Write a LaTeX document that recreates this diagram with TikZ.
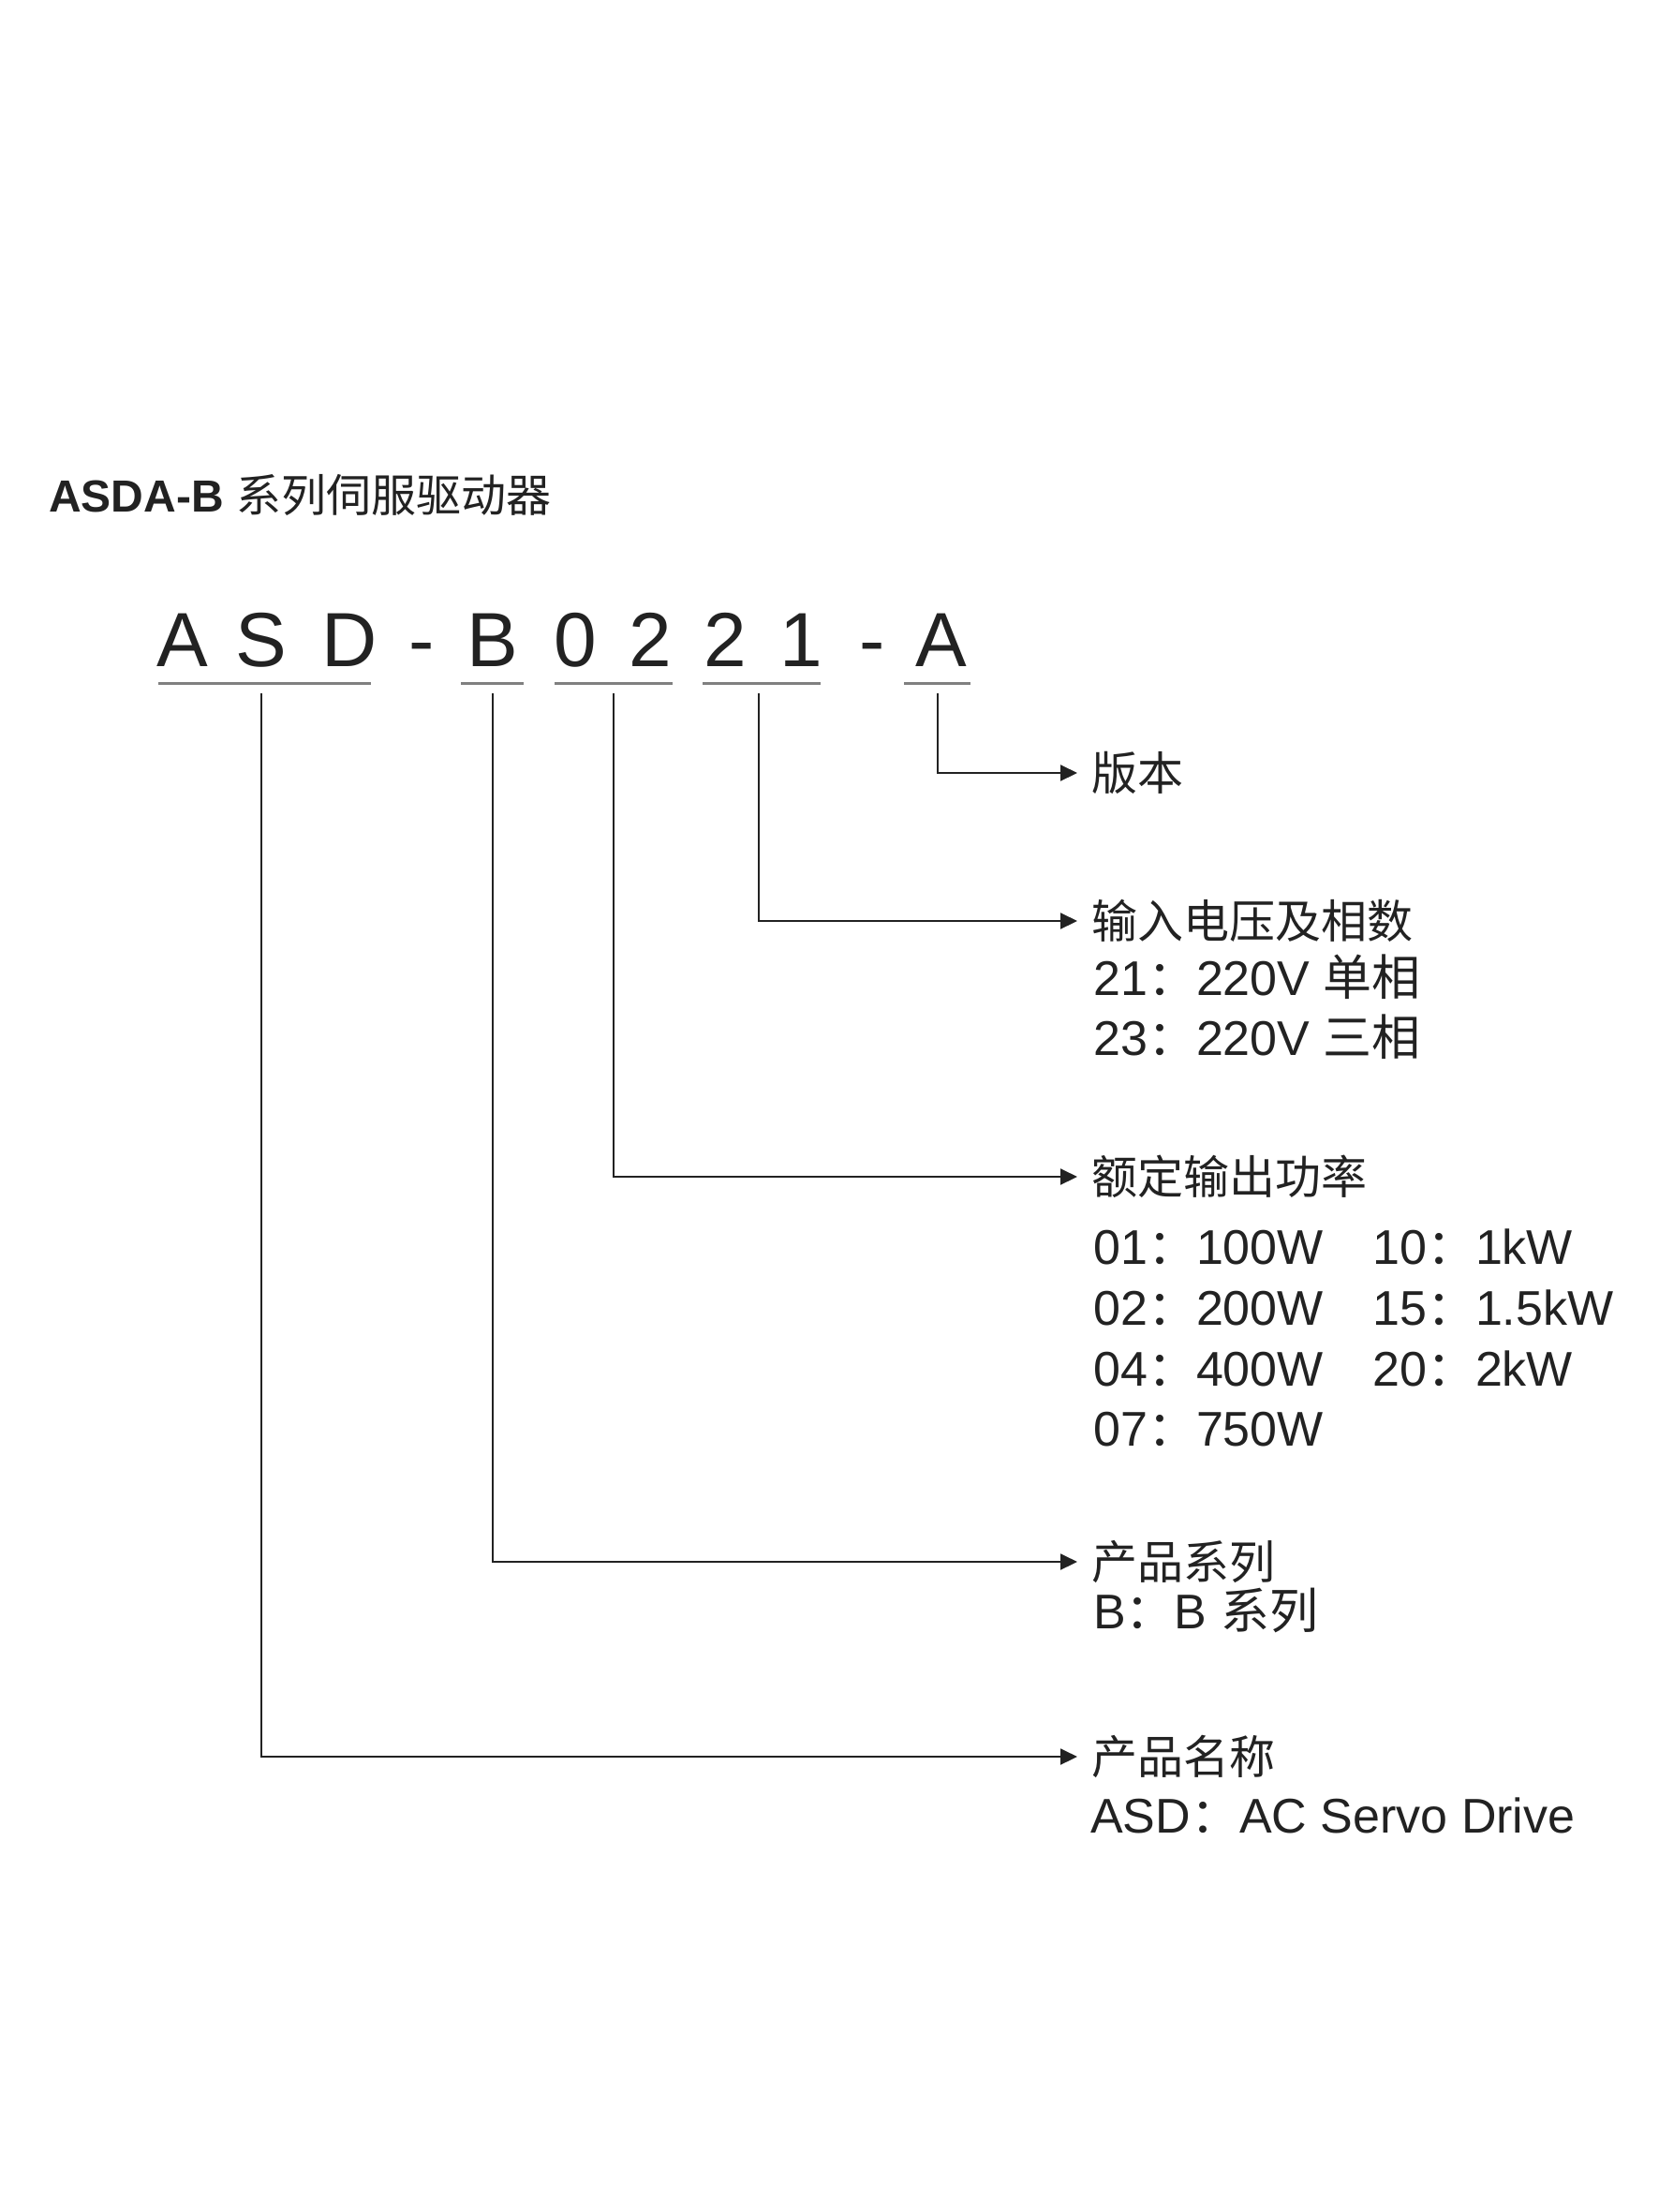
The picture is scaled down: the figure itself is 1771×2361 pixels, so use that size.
\documentclass[tikz,border=0pt]{standalone}
\usepackage{fontspec}
\setmainfont{Liberation Sans}
\newfontfamily\cjk{Noto Sans CJK SC}
\usetikzlibrary{arrows.meta}
\definecolor{ink}{HTML}{222222}
\definecolor{ulgray}{HTML}{808080}
\begin{document}
\begin{tikzpicture}[x=1pt,y=-1pt,
  codech/.style={font=\fontsize{82}{82}\selectfont, text=ink, anchor=base, inner sep=0},
  uline/.style={draw=ulgray, line width=3pt},
  conn/.style={draw=ink, line width=2pt, -{Triangle[length=18pt,width=17pt]}},
  head/.style={anchor=west, inner xsep=15pt, inner ysep=0, font=\cjk\fontsize{49}{49}\selectfont, text=ink},
  sub/.style={anchor=base west, inner sep=0, font=\fontsize{52}{52}\selectfont, text=ink},
  title/.style={anchor=base west, inner sep=0, text=ink}]
\useasboundingbox[fill=white] (0,0) rectangle (1771,2361);

% title
\node[title] (title) at (52,546) {\fontsize{48}{48}\selectfont\bfseries ASDA-B {\cjk\mdseries 系列伺服驱动器}};

% code characters
\node[codech] (c1) at (195,711) {A};
\node[codech] (c2) at (279,711) {S};
\node[codech] (c3) at (373,711) {D};
\node[codech] (c4) at (450,711) {-};
\node[codech] (c5) at (526,711) {B};
\node[codech] (c6) at (614,711) {0};
\node[codech] (c7) at (694,711) {2};
\node[codech] (c8) at (774,711) {2};
\node[codech] (c9) at (855,711) {1};
\node[codech] (c10) at (931,711) {-};
\node[codech] (c11) at (1005,711) {A};

% underlines
\coordinate (u1a) at (169,729); \coordinate (u1b) at (396,729);
\coordinate (u2a) at (492,729); \coordinate (u2b) at (559,729);
\coordinate (u3a) at (592,729); \coordinate (u3b) at (718,729);
\coordinate (u4a) at (750,729); \coordinate (u4b) at (876,729);
\coordinate (u5a) at (965,729); \coordinate (u5b) at (1036,729);
\draw[uline] (u1a) -- (u1b);
\draw[uline] (u2a) -- (u2b);
\draw[uline] (u3a) -- (u3b);
\draw[uline] (u4a) -- (u4b);
\draw[uline] (u5a) -- (u5b);

% connector start points
\coordinate (t1) at (279,740);
\coordinate (t2) at (526,740);
\coordinate (t3) at (655,740);
\coordinate (t4) at (810,740);
\coordinate (t5) at (1001,740);

% heading labels
\node[head] (l5) at (1150,825) {版本};
\node[head] (l4) at (1150,983) {输入电压及相数};
\node[head] (l3) at (1150,1256) {额定输出功率};
\node[head] (l2) at (1150,1667) {产品系列};
\node[head] (l1) at (1150,1875) {产品名称};

% sub lines
\node[sub] (s41) at (1167,1062) {21{\cjk ：}220V {\cjk 单相}};
\node[sub] (s42) at (1167,1126) {23{\cjk ：}220V {\cjk 三相}};
\node[sub] (p1) at (1167,1349) {01{\cjk ：}100W};
\node[sub] (p2) at (1167,1414) {02{\cjk ：}200W};
\node[sub] (p3) at (1167,1479) {04{\cjk ：}400W};
\node[sub] (p4) at (1167,1543) {07{\cjk ：}750W};
\node[sub] (p5) at (1465,1349) {10{\cjk ：}1kW};
\node[sub] (p6) at (1465,1414) {15{\cjk ：}1.5kW};
\node[sub] (p7) at (1465,1479) {20{\cjk ：}2kW};
\node[sub] (s21) at (1167,1738) {B{\cjk ：}B {\cjk 系列}};
\node[sub] (s11) at (1164,1956) {ASD{\cjk ：}AC Servo Drive};

% connectors
\draw[conn] (t5) |- (l5.west);
\draw[conn] (t4) |- (l4.west);
\draw[conn] (t3) |- (l3.west);
\draw[conn] (t2) |- (l2.west);
\draw[conn] (t1) |- (l1.west);
\end{tikzpicture}
\end{document}
